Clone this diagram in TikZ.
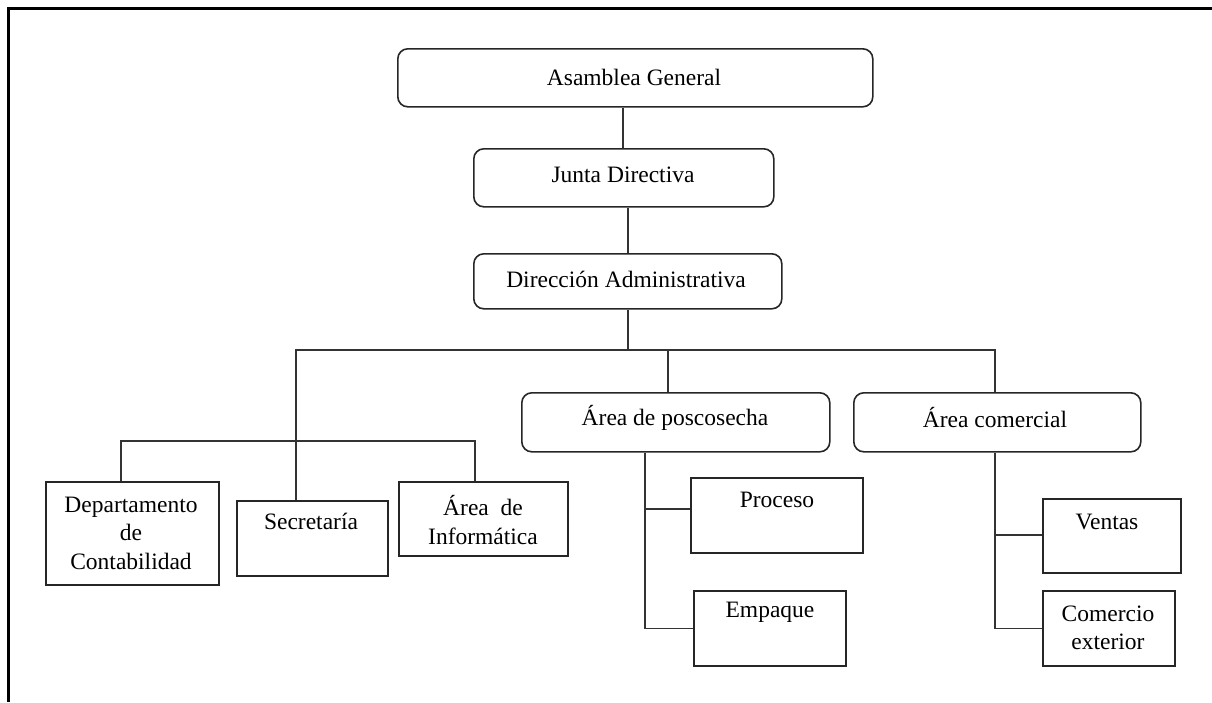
\documentclass[tikz,border=0pt]{standalone}
\usepackage{fontspec}
\setmainfont{Liberation Serif}
\begin{document}
\begin{tikzpicture}[x=1pt,y=-1pt,
  rbox/.style={draw=black!85,line width=1.6pt,rounded corners=10pt,inner sep=0pt,anchor=north west},
  sbox/.style={draw=black!85,line width=1.6pt,inner sep=0pt,anchor=north west},
  conn/.style={draw=black!80,line width=1.6pt},
  txt/.style={font=\fontsize{23.5}{28.5}\selectfont,align=center,inner sep=0pt,text=black}]
\useasboundingbox (0,0) rectangle (1212,702);
% frame
\draw[line width=3pt] (8,702) -- (8,8.5) -- (1212,8.5);
% boxes
\node[rbox,minimum width=475pt,minimum height=58pt] (ag) at (397,48) {};
\node[rbox,minimum width=300pt,minimum height=58pt] (jd) at (473,148) {};
\node[rbox,minimum width=308pt,minimum height=55pt] (da) at (473,253) {};
\node[rbox,minimum width=308pt,minimum height=59pt] (ap) at (521,392) {};
\node[rbox,minimum width=287pt,minimum height=59pt] (ac) at (853,392) {};
\node[sbox,minimum width=173pt,minimum height=103pt] (dc) at (45,481) {};
\node[sbox,minimum width=151pt,minimum height=75pt] (se) at (236,500) {};
\node[sbox,minimum width=169pt,minimum height=74pt] (ai) at (398,481) {};
\node[sbox,minimum width=172pt,minimum height=75pt] (pr) at (690,477) {};
\node[sbox,minimum width=152pt,minimum height=75pt] (em) at (693,590) {};
\node[sbox,minimum width=138pt,minimum height=74pt] (ve) at (1042,498) {};
\node[sbox,minimum width=132pt,minimum height=75pt] (ce) at (1042,590) {};
% texts
\node[txt] (tag) at (634,77) {Asamblea General};
\node[txt] (tjd) at (623,175) {Junta Directiva};
\node[txt] (tda) at (626,279) {Dirección Administrativa};
\node[txt] (tap) at (675,418) {Área de poscosecha};
\node[txt] (tac) at (995,418) {Área comercial};
\node[txt] (tdc) at (131,533) {Departamento\\de\\Contabilidad};
\node[txt] (tse) at (311,521) {Secretaría};
\node[txt] (tai) at (483,520) {Área \ de\\Informática};
\node[txt] (tpr) at (777,500) {Proceso};
\node[txt] (tem) at (770,612) {Empaque};
\node[txt] (tve) at (1107,522) {Ventas};
\node[txt] (tce) at (1108,628) {Comercio\\exterior};
% connectors
\coordinate (h1) at (628,350);
\coordinate (h2) at (296,441);
\draw[conn] (ag.south -| 623,0) -- (jd.north -| 623,0);
\draw[conn] (jd.south -| 628,0) -- (da.north -| 628,0);
\draw[conn] (da.south -| h1) -- (h1);
\draw[conn] (se.north -| 296,0) |- (h1) -| (ac.north -| 995,0);
\draw[conn] (h1 -| 668,0) -- (ap.north -| 668,0);
\draw[conn] (dc.north -| 121,0) |- (h2) -| (ai.north -| 475,0);
\draw[conn] (ap.south -| 645,0) |- (em.west);
\draw[conn] (645,509) -- (pr.west |- 645,509);
\draw[conn] (ac.south -| 995,0) |- (ce.west);
\draw[conn] (995,535) -- (ve.west |- 995,535);
\end{tikzpicture}
\end{document}
